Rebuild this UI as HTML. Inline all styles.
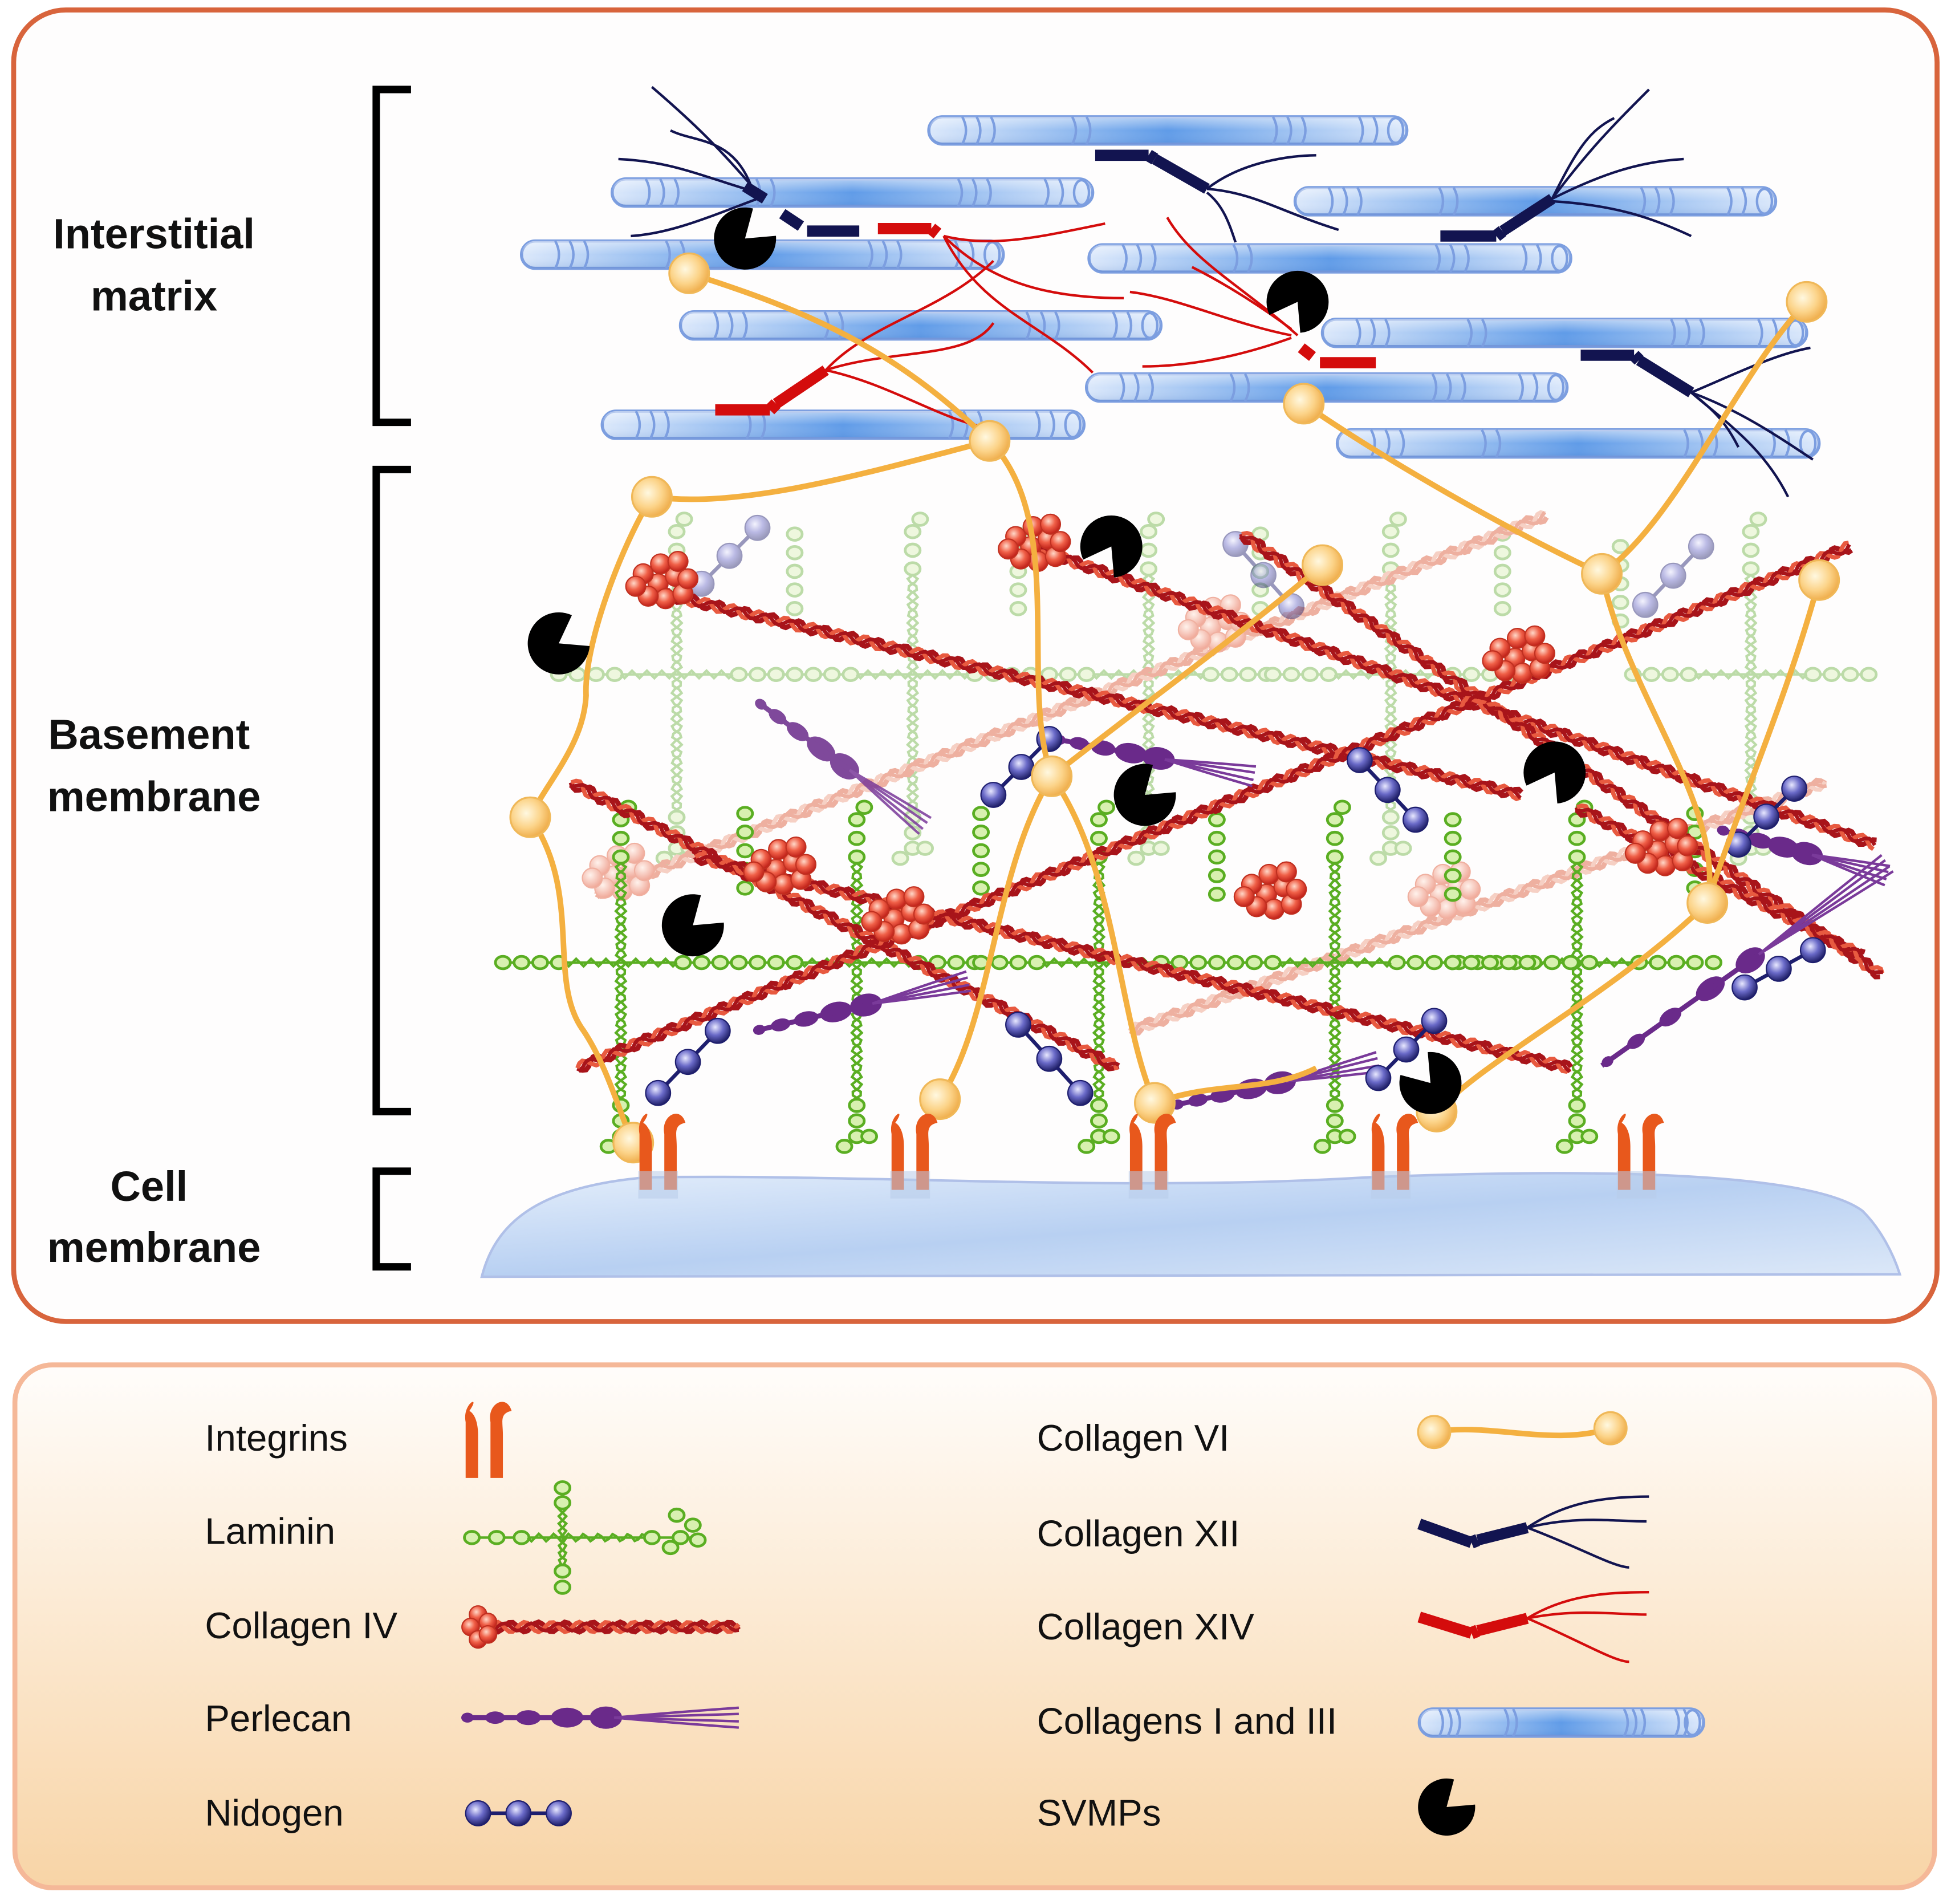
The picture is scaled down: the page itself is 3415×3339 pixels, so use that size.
<!DOCTYPE html>
<html><head><meta charset="utf-8"><style>
html,body{margin:0;padding:0;background:#fff}
svg{display:block}
text{font-family:"Liberation Sans",sans-serif;fill:#111}
</style></head><body>
<svg id="s" width="3415" height="3339" viewBox="0 0 1568 1533" xmlns="http://www.w3.org/2000/svg">
<defs>
<linearGradient id="tube" x1="0" x2="1" y1="0" y2="0">
<stop offset="0" stop-color="#dbe8fb"/><stop offset="0.5" stop-color="#5f9be8"/><stop offset="1" stop-color="#dbe8fb"/></linearGradient>
<linearGradient id="tubev" x1="0" x2="0" y1="0" y2="1">
<stop offset="0" stop-color="#fff" stop-opacity="0.5"/><stop offset="0.5" stop-color="#fff" stop-opacity="0"/><stop offset="1" stop-color="#3060b0" stop-opacity="0.15"/></linearGradient>
<radialGradient id="ball" cx="0.4" cy="0.4" r="0.6"><stop offset="0" stop-color="#fff8e0"/><stop offset="0.6" stop-color="#fcd48a"/><stop offset="1" stop-color="#f0b050"/></radialGradient>
<radialGradient id="rball" cx="0.4" cy="0.35" r="0.65"><stop offset="0" stop-color="#ffd8c8"/><stop offset="0.5" stop-color="#f06048"/><stop offset="1" stop-color="#c02018"/></radialGradient>
<radialGradient id="pball" cx="0.4" cy="0.35" r="0.65"><stop offset="0" stop-color="#fff2ec"/><stop offset="1" stop-color="#f0a898"/></radialGradient>
<radialGradient id="nball" cx="0.4" cy="0.35" r="0.65"><stop offset="0" stop-color="#e8e8ff"/><stop offset="0.5" stop-color="#6a6ac8"/><stop offset="1" stop-color="#202068"/></radialGradient>
<linearGradient id="cell" x1="0" x2="1" y1="0" y2="1"><stop offset="0" stop-color="#e4eefb"/><stop offset="0.5" stop-color="#b8d0f2"/><stop offset="1" stop-color="#dce8f8"/></linearGradient>
<linearGradient id="leg" x1="0" x2="0" y1="0" y2="1"><stop offset="0" stop-color="#fffdfb"/><stop offset="1" stop-color="#f8d4a6"/></linearGradient>
</defs>
<rect x="11" y="8" width="1549" height="1056" rx="42" fill="#fefdfd" stroke="#d8643c" stroke-width="4"/>
<rect x="12" y="1099" width="1546" height="421" rx="30" fill="url(#leg)" stroke="#f5b898" stroke-width="4"/>
<g fill="none" stroke="#000" stroke-width="6">
<path d="M331,72 H303 V340 H331"/><path d="M331,378 H303 V895 H331"/><path d="M331,943 H303 V1020 H331"/></g>
<g font-size="34" font-weight="bold" text-anchor="middle">
<text x="124" y="200">Interstitial</text><text x="124" y="250">matrix</text>
<text x="120" y="603">Basement</text><text x="124" y="653">membrane</text>
<text x="120" y="967">Cell</text><text x="124" y="1016">membrane</text></g>
<g font-size="30">
<text x="165" y="1168">Integrins</text><text x="165" y="1243">Laminin</text><text x="165" y="1319">Collagen IV</text><text x="165" y="1394">Perlecan</text><text x="165" y="1470">Nidogen</text>
<text x="835" y="1168">Collagen VI</text><text x="835" y="1245">Collagen XII</text><text x="835" y="1320">Collagen XIV</text><text x="835" y="1396">Collagens I and III</text><text x="835" y="1470">SVMPs</text></g>
<path d="M388,1028 C400,980 440,955 520,948 C700,945 900,960 1100,948 C1300,940 1460,945 1500,975 C1515,990 1525,1010 1530,1026 Z" fill="url(#cell)" stroke="#b0c0e8" stroke-width="2"/>
<g id="g"></g>
</svg>
<script>
const NS="http://www.w3.org/2000/svg";const G=document.getElementById('g');
function el(t,a,p){const e=document.createElementNS(NS,t);for(const k in a)e.setAttribute(k,a[k]);(p||G).appendChild(e);return e;}
function tube(x1,x2,y,p){const g=el('g',{},p);el('rect',{x:x1,y:y-11,width:x2-x1,height:22,rx:11,fill:'url(#tube)',stroke:'#7c9ee0','stroke-width':2.5},g);
el('rect',{x:x1,y:y-11,width:x2-x1,height:22,rx:11,fill:'url(#tubev)'},g);
const L=x2-x1;[0.07,0.1,0.13,0.3,0.33,0.72,0.75,0.78,0.9,0.93].forEach(f=>{const x=x1+L*f;el('path',{d:`M${x},${y-11} q6,11 0,22`,fill:'none',stroke:'#7c9ee0','stroke-width':2},g);});
el('ellipse',{cx:x2-9,cy:y,rx:6,ry:10,fill:'none',stroke:'#7c9ee0','stroke-width':2},g);}
function wave(x1,y1,x2,y2,amp,per,ph){const dx=x2-x1,dy=y2-y1,L=Math.hypot(dx,dy),nx=-dy/L,ny=dx/L;let d='';const n=Math.ceil(L/3);for(let i=0;i<=n;i++){const t=i/n,s=amp*Math.sin(t*L/per*2*Math.PI+ph);d+=(i?'L':'M')+(x1+dx*t+nx*s).toFixed(1)+','+(y1+dy*t+ny*s).toFixed(1);}return d;}
function col4(x1,y1,x2,y2,light,p){const c1=light?'#eeb0a0':'#a8141a',c2=light?'#f6d0c4':'#e85a40';
el('path',{d:wave(x1,y1,x2,y2,4,22,0),fill:'none',stroke:c1,'stroke-width':4},p);
el('path',{d:wave(x1,y1,x2,y2,4,22,Math.PI),fill:'none',stroke:c2,'stroke-width':3.5},p);
el('path',{d:wave(x1,y1,x2,y2,3,22,Math.PI/2),fill:'none',stroke:c1,'stroke-width':3},p);}
function cluster(x,y,light,p){const pts=[[0,0],[14,-6],[-12,-8],[6,12],[-8,10],[20,8],[2,-16],[-18,2],[16,-18],[24,-4]];pts.forEach(q=>el('circle',{cx:x+q[0],cy:y+q[1],r:8,fill:light?'url(#pball)':'url(#rball)',stroke:light?'#f0b0a0':'#c03020','stroke-width':1},p));}
function smallcluster(x,y){[[0,-10],[-6,0],[0,10],[8,-4],[8,6]].forEach(q=>el('circle',{cx:x+q[0],cy:y+q[1],r:7,fill:'url(#rball)',stroke:'#c03020','stroke-width':1}));}
function ball(x,y,r){el('circle',{cx:x,cy:y,r:r||15,fill:'url(#ball)',stroke:'#f0b858','stroke-width':1.5});}
function pac(cx,cy,r,ang){const a1=(ang+35)*Math.PI/180,a2=(ang-35)*Math.PI/180;el('path',{d:`M${cx},${cy} L${cx+r*Math.cos(a1)},${cy+r*Math.sin(a1)} A${r},${r} 0 1 1 ${cx+r*Math.cos(a2)},${cy+r*Math.sin(a2)} Z`,fill:'#000'});}
function bead(x,y,c,p){el('ellipse',{cx:x,cy:y,rx:6,ry:5,fill:'#d8f0b0',stroke:c,'stroke-width':2.2},p);}
function bchain(x1,y1,x2,y2,n,c,p){for(let i=0;i<n;i++){const t=n==1?0:i/(n-1);bead(x1+(x2-x1)*t,y1+(y2-y1)*t,c,p);}}
function lam(cx,cy,c,p){const g=el('g',{},p);
el('path',{d:`M${cx-95},${cy} H${cx+95}`,stroke:c,'stroke-width':2,fill:'none'},g);
bchain(cx-95,cy,cx-50,cy,4,c,g);bchain(cx+50,cy,cx+95,cy,4,c,g);
el('path',{d:wave(cx-45,cy,cx+45,cy,3,12,0),stroke:c,'stroke-width':2,fill:'none'},g);
el('path',{d:wave(cx,cy-80,cx,cy+110,4,14,0),stroke:c,'stroke-width':2,fill:'none'},g);
el('path',{d:wave(cx,cy-80,cx,cy+110,4,14,Math.PI),stroke:c,'stroke-width':2,fill:'none'},g);
bchain(cx,cy-115,cx,cy-85,3,c,g);bchain(cx,cy+115,cx,cy+140,3,c,g);
bead(cx+10,cy+140,c,g);bead(cx-10,cy+148,c,g);bead(cx+6,cy-125,c,g);}
function nid(x1,y1,x2,y2,light){const op=light?0.45:1;const g=el('g',{opacity:op});el('line',{x1:x1,y1:y1,x2:x2,y2:y2,stroke:'#1e1e6e','stroke-width':3},g);[0,0.5,1].forEach(t=>el('circle',{cx:x1+(x2-x1)*t,cy:y1+(y2-y1)*t,r:10,fill:'url(#nball)',stroke:'#1e1e6e','stroke-width':1},g));}
function perl(x1,y1,x2,y2,op){const g=el('g',{opacity:op||1});const dx=x2-x1,dy=y2-y1,a=Math.atan2(dy,dx)*180/Math.PI;
[[0.02,5,4],[0.12,8,5],[0.24,10,6],[0.38,13,8],[0.52,13,9]].forEach(q=>el('ellipse',{cx:x1+dx*q[0],cy:y1+dy*q[0],rx:q[1],ry:q[2],fill:'#6a2a8a',transform:`rotate(${a} ${x1+dx*q[0]} ${y1+dy*q[0]})`},g));
el('line',{x1:x1,y1:y1,x2:x1+dx*0.55,y2:y1+dy*0.55,stroke:'#6a2a8a','stroke-width':4},g);
const L=Math.hypot(dx,dy),nx=-dy/L,ny=dx/L;[-8,-3,3,8].forEach(o=>el('path',{d:`M${x1+dx*0.55},${y1+dy*0.55} Q${x1+dx*0.75+nx*o*0.5},${y1+dy*0.75+ny*o*0.5} ${x2+nx*o},${y2+ny*o}`,fill:'none',stroke:'#7a3a9a','stroke-width':2},g));}
function integ(x,y,noBase){[[-10,-1],[10,1]].forEach(q=>{const xx=x+q[0];el('path',{d:`M${xx-5},${y+60} L${xx-5},${y+15} C${xx-8},${y} ${xx+8},${y-8} ${xx+ (q[1]>0?12:-2)},${y+6} C${xx+2},${y+8} ${xx+5},${y+15} ${xx+5},${y+25} L${xx+5},${y+60} Z`,fill:'#e8581c'});});
if(!noBase)el('rect',{x:x-16,y:y+45,width:32,height:22,fill:'#b8ccea',opacity:0.55});}
function col12(pts,strands,c){const g=el('g');for(let i=0;i<pts.length-1;i++)el('line',{x1:pts[i][0],y1:pts[i][1],x2:pts[i+1][0],y2:pts[i+1][1],stroke:c,'stroke-width':i%2?10:9},g);
strands.forEach(s=>el('path',{d:s,fill:'none',stroke:c,'stroke-width':2},g));}

[[748,1133,105],[493,880,155],[1043,1430,162],[420,808,205],[877,1265,208],[548,935,262],[1065,1455,268],[875,1262,312],[485,873,342],[1077,1465,357]].forEach(t=>tube(t[0],t[1],t[2]));
const N='#121450';
col12([[600,150],[616,160]],[],N);
col12([[630,172],[645,182]],[],N);
col12([[650,186],[692,186]],['M610,155 C580,120 560,100 525,70','M610,155 C560,140 540,130 498,128','M610,160 C570,175 540,188 508,190','M605,150 C590,110 560,115 540,105'],N);
col12([[882,125],[925,125],[930,128],[972,152]],['M972,152 C1000,130 1040,125 1060,125','M972,152 C1010,155 1030,170 1078,185','M972,155 C985,165 990,180 995,195'],N);
col12([[1160,190],[1205,190],[1210,186],[1250,160]],['M1250,160 C1280,120 1300,100 1328,72','M1250,160 C1290,140 1320,130 1356,128','M1250,162 C1300,165 1330,175 1362,190','M1250,160 C1270,120 1280,105 1300,95'],N);
col12([[1273,286],[1316,286],[1320,290],[1362,316]],['M1362,316 C1400,300 1430,285 1458,280','M1362,316 C1390,340 1420,360 1440,400','M1362,316 C1400,330 1430,350 1460,370','M1362,316 C1380,330 1390,340 1400,360'],N);
const R='#d40c0c';
col12([[707,184],[750,184],[755,188]],['M760,190 C800,200 840,190 890,180','M760,190 C800,230 850,240 905,240','M760,190 C790,250 840,260 880,300'],R);
col12([[576,330],[620,330],[625,325],[665,298]],['M665,298 C700,260 760,250 800,210','M665,298 C720,280 780,290 800,260','M665,298 C720,310 760,340 800,345'],R);
col12([[1048,280],[1057,287]],[],R);
col12([[1063,292],[1108,292]],['M1045,270 C1000,230 960,210 940,175','M1040,270 C990,260 950,240 910,235','M1040,272 C990,290 950,295 920,295','M1040,265 C1020,250 990,230 960,215'],R);
const bg=el('g',{opacity:0.4});
[545,735,925,1120,1410].forEach(x=>lam(x,543,'#5aaa2a',bg));
[[640,430],[820,430],[1015,430],[1210,430],[1305,440]].forEach(q=>bchain(q[0],q[1],q[0],q[1]+60,5,'#5aaa2a',bg));
col4(480,720,1245,415,true);
col4(910,830,1470,630,true);
cluster(975,505,true);cluster(1160,720,true);cluster(495,705,true);
nid(565,470,610,425,true);nid(995,438,1040,488,true);nid(1325,487,1370,440,true);
const fg=el('g');
[500,690,885,1075,1270].forEach(x=>lam(x,775,'#5aae22',fg));
[[600,655],[790,655],[980,660],[1170,660],[1365,655]].forEach(q=>bchain(q[0],q[1],q[0],q[1]+60,5,'#5aae22',fg));
[[1220,775],[1320,775],[1170,775]].forEach(q=>bchain(q[0],q[1],q[0]+60,q[1],5,'#5aae22',fg));
col4(520,475,1225,640);col4(830,440,1510,680);col4(1000,430,1515,785);
col4(460,630,900,860);col4(465,860,1490,440);col4(560,690,1265,860);col4(1270,650,1500,770);
cluster(530,470);cluster(830,440);cluster(625,700);cluster(720,740);cluster(1020,720);cluster(1220,530);cluster(1335,685);
perl(610,565,745,665,0.85);perl(850,595,1010,625);perl(608,830,780,790);perl(945,890,1110,855);perl(1290,858,1520,695);perl(1385,668,1520,705);
nid(800,640,845,595);nid(820,825,870,880);nid(1095,612,1140,660);nid(530,880,578,830);nid(1400,680,1445,635);nid(1405,795,1460,765);nid(1110,868,1155,822);
const o={fill:'none',stroke:'#f4b040','stroke-width':4.5};
['M555,220 C650,250 720,280 797,355','M525,400 C600,410 700,380 797,355','M525,400 C500,440 470,520 472,560 C470,600 440,630 427,658','M427,658 C470,720 440,790 470,830 C490,860 500,900 510,920',
'M797,355 C860,420 820,550 847,625','M847,625 C800,700 800,820 757,885','M847,625 C900,700 900,820 930,888','M847,625 C930,560 1000,510 1065,455',
'M1050,325 C1100,360 1200,420 1290,462','M1455,243 C1400,300 1350,420 1290,462','M1290,462 C1310,560 1390,650 1375,727','M1465,467 C1440,560 1400,650 1375,727','M1375,727 C1300,800 1200,850 1157,895','M930,888 C980,870 1020,880 1060,860'].forEach(d=>{o.d=d;el('path',o);});
[[555,220],[525,400],[797,355],[427,658],[510,920],[847,625],[757,885],[930,888],[1050,325],[1455,243],[1290,462],[1465,467],[1375,727],[1157,895],[1065,455]].forEach(b=>ball(b[0],b[1],16));
[530,733,925,1120,1318].forEach(x=>integ(x,898));
pac(600,192,25,-40);pac(450,518,25,-30);pac(895,440,25,120);pac(1045,243,25,120);pac(922,640,25,-40);pac(1252,622,25,120);pac(558,745,25,-40);pac(1152,872,25,-130);
// Legend
integ(390,1130,true);
(function(){const c='#5aae22',cx=453,cy=1238;
el('path',{d:`M373,${cy} H560`,stroke:c,'stroke-width':2,fill:'none'});
bchain(380,cy,420,cy,3,c);el('path',{d:wave(425,cy,520,cy,3,12,0),stroke:c,'stroke-width':2,fill:'none'});
bchain(525,cy,548,cy,2,c);bead(558,cy-10,c);bead(562,cy+2,c);bead(545,cy-18,c);bead(540,cy+8,c);
el('path',{d:wave(cx,1212,cx,1262,3,12,0),stroke:c,'stroke-width':2,fill:'none'});
el('path',{d:wave(cx,1212,cx,1262,3,12,Math.PI),stroke:c,'stroke-width':2,fill:'none'});
bchain(cx,1198,cx,1210,2,c);bchain(cx,1265,cx,1278,2,c);})();
col4(395,1310,595,1310);smallcluster(385,1310);
perl(372,1383,595,1383);
nid(385,1460,450,1460);
o.d='M1155,1153 C1200,1145 1250,1165 1297,1150';el('path',o);ball(1155,1153,13);ball(1297,1150,13);
col12([[1143,1227],[1185,1242],[1190,1240],[1230,1230]],['M1230,1230 C1260,1210 1290,1205 1328,1205','M1230,1230 C1270,1220 1300,1225 1326,1225','M1230,1230 C1270,1245 1300,1262 1312,1262'],N);
col12([[1143,1302],[1185,1315],[1190,1313],[1230,1303]],['M1230,1303 C1260,1285 1290,1282 1328,1282','M1230,1303 C1270,1295 1300,1300 1326,1300','M1230,1303 C1270,1320 1300,1338 1312,1338'],R);
tube(1143,1372,1387);
pac(1165,1455,23,-40);
</script>
</body></html>
